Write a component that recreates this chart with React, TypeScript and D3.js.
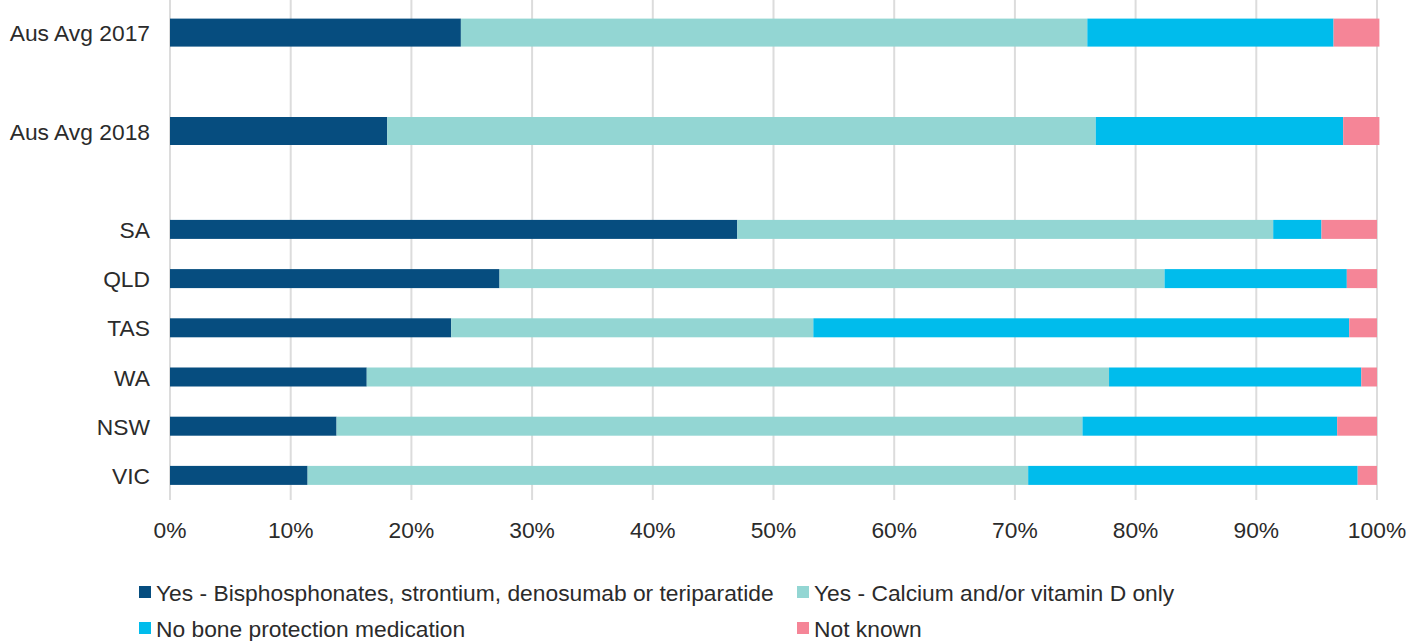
import { useEffect, useRef } from 'react'
import * as d3 from 'd3'

// ─── Data ─────────────────────────────────────────────────────────────────────

// '' rows are spacer rows between the national averages and the states
const categories = ['Aus Avg 2017', '', 'Aus Avg 2018', ' ', 'SA', 'QLD', 'TAS', 'WA', 'NSW', 'VIC']

const seriesNames = [
  'Yes - Bisphosphonates, strontium, denosumab or teriparatide',
  'Yes - Calcium and/or vitamin D only',
  'No bone protection medication',
  'Not known',
]

const bisphosphonates = [24.1, 0, 18.0, 0, 47.0, 27.3, 23.3, 16.3, 13.8, 11.4]
const calciumVitD     = [51.9, 0, 58.7, 0, 44.4, 55.1, 30.0, 61.5, 61.8, 59.7]
const noMedication    = [20.4, 0, 20.5, 0, 4.0, 15.1, 44.4, 20.9, 21.1, 27.3]
const notKnown        = [3.8, 0, 3.0, 0, 4.6, 2.5, 2.3, 1.3, 3.3, 1.6]

const xTicks = [0, 10, 20, 30, 40, 50, 60, 70, 80, 90, 100]

const COLORS = ['#064D7F', '#93D6D3', '#00BCEC', '#F58597']

// ─── Layout ───────────────────────────────────────────────────────────────────

const W = 1422
const H = 641
const MARGIN = { top: 8, right: 45, bottom: 141, left: 170 }
const FONT = '"Liberation Sans", Arial, sans-serif'
const FS = 22.8
const TEXT = '#2b2b2b'

export default function App() {
  const svgRef = useRef<SVGSVGElement>(null)

  useEffect(() => {
    if (!svgRef.current) return
    const svg = d3.select(svgRef.current)
    svg.selectAll('*').remove()

    const innerW = W - MARGIN.left - MARGIN.right
    const innerH = H - MARGIN.top - MARGIN.bottom

    const rows = categories.map((c, i) => ({
      cat: c,
      s0: bisphosphonates[i],
      s1: calciumVitD[i],
      s2: noMedication[i],
      s3: notKnown[i],
    }))

    const x = d3.scaleLinear().domain([0, 100]).range([0, innerW])
    const y = d3.scaleBand().domain(categories).range([0, innerH]).padding(0)

    const g = svg.append('g').attr('transform', `translate(${MARGIN.left},${MARGIN.top})`)

    // Vertical gridlines
    g.append('g')
      .selectAll('line')
      .data(xTicks)
      .join('line')
      .attr('x1', (d) => x(d)).attr('x2', (d) => x(d))
      .attr('y1', -MARGIN.top).attr('y2', innerH)
      .attr('stroke', '#DCDCDC')
      .attr('stroke-width', 2)

    // Stacked bars (national averages drawn thicker)
    const barH = (cat: string) => (cat.startsWith('Aus') ? 28 : 19)
    const stack = d3.stack<typeof rows[number]>().keys(['s0', 's1', 's2', 's3'])
    const layers = stack(rows)

    layers.forEach((layer, li) => {
      g.append('g')
        .attr('fill', COLORS[li])
        .selectAll('rect')
        .data(layer.filter((d) => d.data.cat.trim() !== ''))
        .join('rect')
        .attr('x', (d) => x(d[0]))
        .attr('width', (d) => x(d[1]) - x(d[0]))
        .attr('y', (d) => (y(d.data.cat) ?? 0) + y.bandwidth() / 2 - barH(d.data.cat) / 2)
        .attr('height', (d) => barH(d.data.cat))
    })

    // Y labels
    g.append('g')
      .selectAll('text')
      .data(categories.filter((c) => c.trim() !== ''))
      .join('text')
      .attr('x', -20)
      .attr('y', (d) => (y(d) ?? 0) + y.bandwidth() / 2)
      .attr('dy', '0.38em')
      .attr('text-anchor', 'end')
      .attr('font-family', FONT)
      .attr('font-size', FS)
      .attr('fill', TEXT)
      .text((d) => d)

    // X tick labels
    g.append('g')
      .selectAll('text')
      .data(xTicks)
      .join('text')
      .attr('x', (d) => x(d))
      .attr('y', innerH + 38)
      .attr('text-anchor', 'middle')
      .attr('font-family', FONT)
      .attr('font-size', FS)
      .attr('fill', TEXT)
      .text((d) => `${d}%`)

    // Legend
    const legendPos = [
      { x: 139, y: 586 },
      { x: 797, y: 586 },
      { x: 139, y: 622 },
      { x: 797, y: 622 },
    ]
    const lg = svg.append('g')
    seriesNames.forEach((name, i) => {
      const p = legendPos[i]
      lg.append('rect')
        .attr('x', p.x).attr('y', p.y)
        .attr('width', 12).attr('height', 12)
        .attr('fill', COLORS[i])
      lg.append('text')
        .attr('x', p.x + 17)
        .attr('y', p.y + 15)
        .attr('font-family', FONT)
        .attr('font-size', FS)
        .attr('fill', TEXT)
        .text(name)
    })
  }, [])

  return (
    <div style={{ position: 'absolute', left: 0, top: 0, width: W, height: H, background: '#fff' }}>
      <svg ref={svgRef} width={W} height={H} style={{ display: 'block' }} />
    </div>
  )
}
